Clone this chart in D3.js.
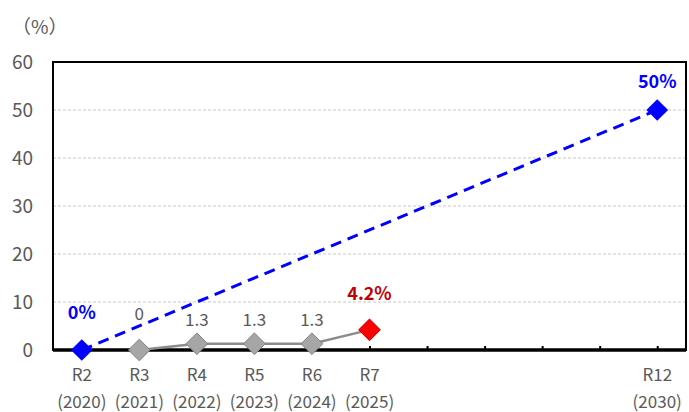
<!DOCTYPE html>
<html>
<head>
<meta charset="utf-8">
<script src="https://cdn.jsdelivr.net/npm/d3@7"></script>
<style>
  body { margin: 0; background: #fff; }
  text { font-family: "Noto Sans CJK JP", "Noto Sans", sans-serif; }
</style>
</head>
<body>
<svg id="drawing_region"></svg>
<script>
// categories (fiscal years)
const categories = ["R2", "R3", "R4", "R5", "R6", "R7", "R8", "R9", "R10", "R11", "R12"];
const years = ["(2020)", "(2021)", "(2022)", "(2023)", "(2024)", "(2025)", "", "", "", "", "(2030)"];
const shownLabels = ["R2", "R3", "R4", "R5", "R6", "R7", "R12"];

// target line (dashed blue)
const targetCats = ["R2", "R12"];
const targetValues = [0, 50];
const targetLabels = ["0%", "50%"];

// actual results (gray, latest in red)
const actualCats = ["R3", "R4", "R5", "R6", "R7"];
const actualValues = [0, 1.3, 1.3, 1.3, 4.2];
const actualLabels = ["0", "1.3", "1.3", "1.3", "4.2%"];

const yTicks = [0, 10, 20, 30, 40, 50, 60];

const config = {
    width: 689,
    height: 412,
    margin: {top: 62, right: 3, bottom: 62, left: 53}
};

const svg = d3.select("#drawing_region")
    .attr("width", config.width)
    .attr("height", config.height);

const inner_width = config.width - config.margin.left - config.margin.right;
const inner_height = config.height - config.margin.top - config.margin.bottom;

const chart = svg.append("g")
    .attr("transform", `translate(${config.margin.left}, ${config.margin.top})`);

const x = d3.scalePoint()
    .domain(categories)
    .range([0, inner_width])
    .padding(0.5);

const y = d3.scaleLinear()
    .domain([0, 60])
    .range([inner_height, 0]);

// grid lines
chart.selectAll(".grid")
    .data(yTicks.filter(d => d > 0 && d < 60))
    .enter()
    .append("line")
    .attr("x1", 0)
    .attr("x2", inner_width)
    .attr("y1", d => y(d))
    .attr("y2", d => y(d))
    .attr("stroke", "#c8c8c8")
    .attr("stroke-width", 1)
    .attr("stroke-dasharray", "3,2");

// plot frame
chart.append("rect")
    .attr("x", 0)
    .attr("y", 0)
    .attr("width", inner_width)
    .attr("height", inner_height)
    .attr("fill", "none")
    .attr("stroke", "#000")
    .attr("stroke-width", 2);

// y axis labels
const yAxis = d3.axisLeft(y).tickValues(yTicks).tickSize(0).tickPadding(20);
const yg = chart.append("g").call(yAxis);
yg.select(".domain").remove();
yg.selectAll("text")
    .attr("fill", "#595959")
    .style("font-size", "19px");

svg.append("text")
    .attr("x", 12)
    .attr("y", 34)
    .attr("fill", "#595959")
    .style("font-size", "19px")
    .text("（%）");

// x axis: thick baseline with small inward ticks
const xAxis = d3.axisBottom(x).tickSize(-4).tickFormat("");
const xg = chart.append("g")
    .attr("transform", `translate(0, ${inner_height})`)
    .call(xAxis);
xg.select(".domain").remove();
xg.selectAll(".tick line").attr("stroke", "#000").attr("stroke-width", 2);

chart.append("line")
    .attr("x1", 0)
    .attr("x2", inner_width)
    .attr("y1", inner_height)
    .attr("y2", inner_height)
    .attr("stroke", "#000")
    .attr("stroke-width", 3.5);

// category labels
const catLabels = chart.selectAll(".cat")
    .data(categories.map((c, i) => ({c: c, yr: years[i]})).filter(d => shownLabels.includes(d.c)))
    .enter()
    .append("g")
    .attr("transform", d => `translate(${x(d.c)}, ${inner_height})`);

catLabels.append("text")
    .attr("y", 31)
    .attr("text-anchor", "middle")
    .attr("fill", "#595959")
    .style("font-size", "17px")
    .text(d => d.c);

catLabels.append("text")
    .attr("y", 58)
    .attr("text-anchor", "middle")
    .attr("fill", "#595959")
    .style("font-size", "17px")
    .text(d => d.yr);

const line = d3.line()
    .x(d => x(d.c))
    .y(d => y(d.v));

const diamond = d3.symbol().type(d3.symbolDiamond2).size(300);

// actual series
const actual = actualCats.map((c, i) => ({c: c, v: actualValues[i], label: actualLabels[i]}));
const last = actual.length - 1;

chart.append("path")
    .datum(actual)
    .attr("d", line)
    .attr("fill", "none")
    .attr("stroke", "#8c8c8c")
    .attr("stroke-width", 2.5);

// target series
const target = targetCats.map((c, i) => ({c: c, v: targetValues[i], label: targetLabels[i]}));

chart.append("path")
    .datum(target)
    .attr("d", line)
    .attr("fill", "none")
    .attr("stroke", "#0000ff")
    .attr("stroke-width", 3)
    .attr("stroke-dasharray", "11,7");

chart.selectAll(".actual-pt")
    .data(actual)
    .enter()
    .append("path")
    .attr("d", diamond)
    .attr("transform", d => `translate(${x(d.c)}, ${y(d.v)})`)
    .attr("fill", (d, i) => i === last ? "#ff0000" : "#a6a6a6")
    .attr("stroke", (d, i) => i === last ? "#c00000" : "#808080")
    .attr("stroke-width", 1);

chart.selectAll(".target-pt")
    .data(target)
    .enter()
    .append("path")
    .attr("d", diamond)
    .attr("transform", d => `translate(${x(d.c)}, ${y(d.v)})`)
    .attr("fill", "#0000ff");

// data labels
chart.selectAll(".actual-lbl")
    .data(actual)
    .enter()
    .append("text")
    .attr("x", d => x(d.c))
    .attr("y", (d, i) => y(d.v) - (i === 0 || i === last ? 30 : 18))
    .attr("text-anchor", "middle")
    .attr("fill", (d, i) => i === last ? "#c00000" : "#595959")
    .style("font-size", (d, i) => i === last ? "18px" : "17px")
    .style("font-weight", (d, i) => i === last ? "bold" : "normal")
    .text(d => d.label);

chart.selectAll(".target-lbl")
    .data(target)
    .enter()
    .append("text")
    .attr("x", d => x(d.c))
    .attr("y", (d, i) => y(d.v) - (i === 0 ? 31 : 22))
    .attr("text-anchor", "middle")
    .attr("fill", "#0000ff")
    .style("font-size", "18px")
    .style("font-weight", "bold")
    .text(d => d.label);
</script>
</body>
</html>
